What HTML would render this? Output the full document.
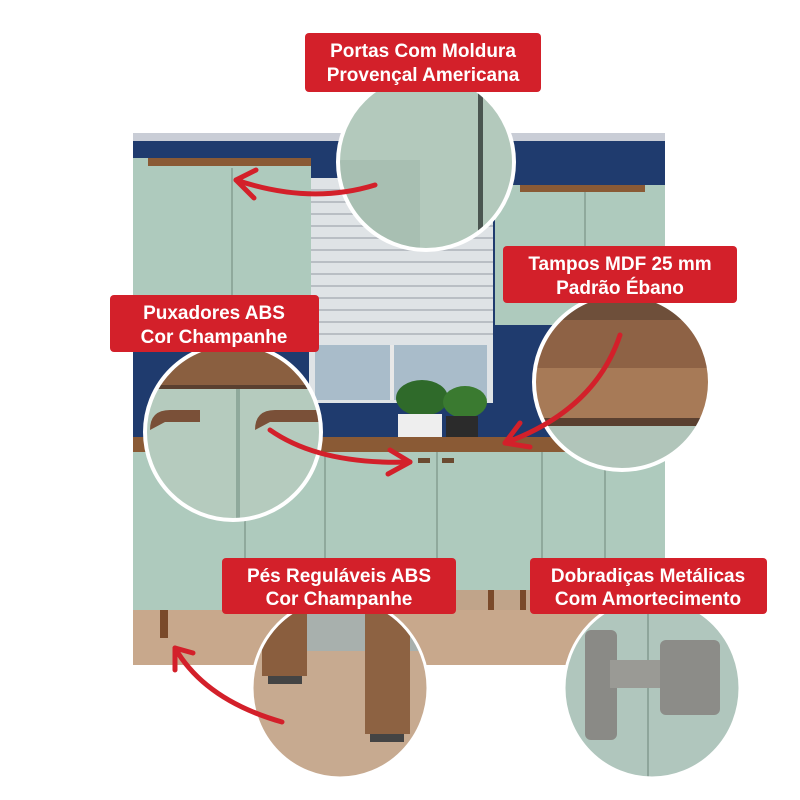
<!DOCTYPE html>
<html><head><meta charset="utf-8"><style>
html,body{margin:0;padding:0;background:#fff;}
svg{display:block;}
text{font-family:"Liberation Sans",sans-serif;font-weight:bold;fill:#fff;font-size:19px;text-anchor:middle;}
</style></head><body>
<svg width="800" height="800" viewBox="0 0 800 800">
<defs>
<clipPath id="photo"><rect x="133" y="133" width="532" height="532"/></clipPath>
<clipPath id="c1"><circle cx="426" cy="162" r="88"/></clipPath>
<clipPath id="c2"><circle cx="622" cy="382" r="88"/></clipPath>
<clipPath id="c3"><circle cx="233" cy="432" r="88"/></clipPath>
<clipPath id="c4"><ellipse cx="340" cy="688" rx="88" ry="90"/></clipPath>
<clipPath id="c5"><ellipse cx="652" cy="688" rx="88" ry="90"/></clipPath>
</defs>
<g clip-path="url(#photo)">
<rect x="133" y="133" width="532" height="532" fill="#1f3b6e"/>
<rect x="133" y="133" width="532" height="8" fill="#c9cdd6"/>
<!-- window -->
<rect x="309" y="178" width="184" height="225" fill="#dfe3e6"/>
<g stroke="#b9bec4" stroke-width="2">
<line x1="309" y1="190" x2="493" y2="190"/><line x1="309" y1="202" x2="493" y2="202"/><line x1="309" y1="214" x2="493" y2="214"/><line x1="309" y1="226" x2="493" y2="226"/><line x1="309" y1="238" x2="493" y2="238"/><line x1="309" y1="250" x2="493" y2="250"/><line x1="309" y1="262" x2="493" y2="262"/><line x1="309" y1="274" x2="493" y2="274"/><line x1="309" y1="286" x2="493" y2="286"/><line x1="309" y1="298" x2="493" y2="298"/><line x1="309" y1="310" x2="493" y2="310"/><line x1="309" y1="322" x2="493" y2="322"/><line x1="309" y1="334" x2="493" y2="334"/>
</g>
<rect x="315" y="345" width="172" height="55" fill="#a9bcca"/>
<rect x="390" y="345" width="4" height="55" fill="#e8e8e8"/>
<!-- plants -->
<ellipse cx="422" cy="398" rx="26" ry="18" fill="#2f6a2a"/>
<ellipse cx="465" cy="402" rx="22" ry="16" fill="#3a7a30"/>
<rect x="398" y="414" width="44" height="30" fill="#eeeeee"/>
<rect x="446" y="416" width="32" height="28" fill="#2b2b2b"/>
<!-- upper cabinets -->
<rect x="133" y="158" width="178" height="145" fill="#aecabd"/>
<rect x="148" y="158" width="163" height="8" fill="#8a5a35"/>
<line x1="232" y1="168" x2="232" y2="303" stroke="#8fa99c" stroke-width="2"/>
<rect x="495" y="185" width="170" height="140" fill="#aecabd"/>
<rect x="520" y="185" width="125" height="7" fill="#8a5a35"/>
<line x1="585" y1="192" x2="585" y2="325" stroke="#8fa99c" stroke-width="2"/>
<!-- counter & lower cabinets -->
<rect x="133" y="437" width="532" height="15" fill="#8a5a35"/>
<rect x="133" y="452" width="532" height="158" fill="#aecabd"/>
<g stroke="#8fa99c" stroke-width="2">
<line x1="245" y1="452" x2="245" y2="610"/><line x1="325" y1="452" x2="325" y2="610"/><line x1="437" y1="452" x2="437" y2="590"/><line x1="542" y1="452" x2="542" y2="590"/><line x1="605" y1="452" x2="605" y2="590"/>
</g>
<rect x="133" y="610" width="532" height="55" fill="#c8a88c"/>
<rect x="325" y="590" width="218" height="20" fill="#c0a48a"/>
<rect x="160" y="610" width="8" height="28" fill="#7a4a2a"/>
<rect x="488" y="590" width="6" height="20" fill="#7a4a2a"/>
<rect x="520" y="590" width="6" height="20" fill="#7a4a2a"/>
<rect x="418" y="458" width="12" height="5" fill="#6b4a30"/>
<rect x="442" y="458" width="12" height="5" fill="#6b4a30"/>
</g>
<!-- circle 1 top -->
<g clip-path="url(#c1)"><rect x="330" y="70" width="200" height="190" fill="#b3c9bc"/><rect x="340" y="160" width="80" height="100" fill="#a8bfb2"/><rect x="478" y="70" width="5" height="190" fill="#4a5550"/></g>
<circle cx="426" cy="162" r="88" fill="none" stroke="#fff" stroke-width="4"/>
<!-- circle 2 right -->
<g clip-path="url(#c2)"><rect x="530" y="290" width="190" height="185" fill="#b1c5ba"/><rect x="530" y="290" width="190" height="30" fill="#6e4f3a"/><rect x="530" y="320" width="190" height="48" fill="#8e6245"/><rect x="530" y="368" width="190" height="50" fill="#a77a57"/><rect x="530" y="418" width="190" height="8" fill="#5a4030"/></g>
<circle cx="622" cy="382" r="88" fill="none" stroke="#fff" stroke-width="4"/>
<!-- circle 3 left -->
<g clip-path="url(#c3)"><rect x="140" y="340" width="190" height="185" fill="#b5cbbe"/><rect x="140" y="340" width="190" height="45" fill="#8a5f40"/><rect x="140" y="385" width="190" height="4" fill="#5a4030"/><rect x="236" y="389" width="4" height="140" fill="#8fa99c"/><path d="M150 430 q0-20 20-20 h30 v12 h-35 z" fill="#7a5038"/><path d="M255 430 q0-20 20-20 h50 v12 h-55 z" fill="#7a5038"/></g>
<circle cx="233" cy="432" r="88" fill="none" stroke="#fff" stroke-width="4"/>
<!-- circle 4 legs -->
<g clip-path="url(#c4)"><rect x="250" y="596" width="180" height="185" fill="#c7aa90"/><rect x="250" y="596" width="180" height="55" fill="#a8b0ad"/><rect x="262" y="596" width="45" height="80" fill="#8a5e3e"/><rect x="365" y="596" width="45" height="138" fill="#8d6242"/><rect x="268" y="676" width="34" height="8" fill="#444"/><rect x="370" y="734" width="34" height="8" fill="#444"/></g>
<ellipse cx="340" cy="688" rx="88" ry="90" fill="none" stroke="#fff" stroke-width="3"/>
<!-- circle 5 hinge -->
<g clip-path="url(#c5)"><rect x="560" y="596" width="185" height="185" fill="#b0c6bd"/><line x1="648" y1="596" x2="648" y2="780" stroke="#8ea59b" stroke-width="2"/><rect x="585" y="630" width="32" height="110" rx="6" fill="#8a8a86"/><rect x="610" y="660" width="60" height="28" fill="#9a9a95"/><rect x="660" y="640" width="60" height="75" rx="6" fill="#8c8c88"/></g>
<ellipse cx="652" cy="688" rx="88" ry="90" fill="none" stroke="#fff" stroke-width="3"/>
<!-- arrows -->
<g fill="none" stroke="#d3202a" stroke-width="5" stroke-linecap="round">
<path d="M375 185 Q310 205 236 180"/><path d="M236 180 l20 -10 M236 180 l18 18"/>
<path d="M270 430 Q320 465 410 462"/><path d="M410 462 l-20 -12 M410 462 l-22 12"/>
<path d="M620 335 Q595 410 505 443"/><path d="M505 443 l15 -20 M505 443 l25 4"/>
<path d="M282 722 Q205 700 175 648"/><path d="M175 648 l0 22 M175 648 l18 5"/>
</g>
<!-- labels -->
<rect x="305" y="33" width="236" height="59" rx="4" fill="#d3202a"/>
<text x="423" y="57">Portas Com Moldura</text><text x="423" y="81">Provençal Americana</text>
<rect x="503" y="246" width="234" height="57" rx="4" fill="#d3202a"/>
<text x="620" y="270">Tampos MDF 25 mm</text><text x="620" y="294">Padrão Ébano</text>
<rect x="110" y="295" width="209" height="57" rx="4" fill="#d3202a"/>
<text x="214" y="319">Puxadores ABS</text><text x="214" y="343">Cor Champanhe</text>
<rect x="222" y="558" width="234" height="56" rx="4" fill="#d3202a"/>
<text x="339" y="582">Pés Reguláveis ABS</text><text x="339" y="605">Cor Champanhe</text>
<rect x="530" y="558" width="237" height="56" rx="4" fill="#d3202a"/>
<text x="648" y="582">Dobradiças Metálicas</text><text x="648" y="605">Com Amortecimento</text>
</svg>
</body></html>
